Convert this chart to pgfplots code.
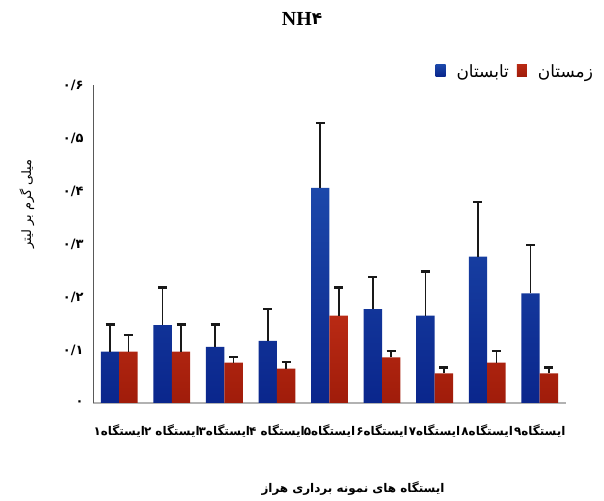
\documentclass[border=0pt]{standalone}
\usepackage{fontspec}
\usepackage{pgfplots}
\pgfplotsset{compat=1.18}
\setmainfont{Liberation Serif}
\newfontfamily\arabicfont[Script=Arabic]{DejaVu Sans}
\TeXXeTstate=1
\definecolor{bluetop}{RGB}{28,72,170}
\definecolor{bluebot}{RGB}{10,38,140}
\definecolor{redtop}{RGB}{185,42,20}
\definecolor{redbot}{RGB}{160,28,10}
\pgfplotstableread{
x s se w we
0 0.097 0.051 0.097 0.031
1 0.147 0.071 0.097 0.051
2 0.106 0.042 0.076 0.011
3 0.117 0.060 0.065 0.012
4 0.406 0.122 0.165 0.053
5 0.177 0.061 0.086 0.012
6 0.165 0.083 0.056 0.011
7 0.276 0.103 0.076 0.022
8 0.207 0.091 0.056 0.011
}\datatable
\begin{document}
\begin{tikzpicture}
\begin{axis}[
  at={(93bp,98bp)}, anchor=south west,
  scale only axis, width=473bp, height=318bp,
  xmin=-0.5, xmax=8.5, ymin=0, ymax=0.6,
  ybar=0pt, bar width=0.35,
  axis x line*=bottom, axis y line*=left,
  x axis line style={draw=gray!60, line width=1.3pt, -},
  y axis line style={draw=gray!70!black, line width=0.9pt, -},
  xtick={0,1,2,3,4,5,6,7,8},
  xticklabels={{\beginR ایستگاه۱\endR},{\beginR ایستگاه ۲\endR},{\beginR ایستگاه۳\endR},{\beginR ایستگاه ۴\endR},{\beginR ایستگاه۵\endR},{\beginR ایستگاه۶\endR},{\beginR ایستگاه۷\endR},{\beginR ایستگاه۸\endR},{\beginR ایستگاه۹\endR}},
  ytick={0,0.1,0.2,0.3,0.4,0.5,0.6},
  yticklabels={۰,۰/۱,۰/۲,۰/۳,۰/۴,۰/۵,۰/۶},
  major tick length=0pt,
  xticklabel style={font=\arabicfont\bfseries\fontsize{12}{14}\selectfont, yshift=-18bp},
  yticklabel style={font=\arabicfont\bfseries\fontsize{13}{15}\selectfont, xshift=-6bp},
  legend style={draw=none, fill=none, at={(1.068,1.04)}, anchor=east, legend columns=2,
     font=\arabicfont\fontsize{17}{19}\selectfont, /tikz/every even column/.append style={column sep=6bp}},
  legend image code/.code={\path[#1] (0bp,-4bp) rectangle (10bp,8bp); \path (19bp,2bp);},
  clip=false,
]
\addplot[draw=none, top color=bluetop, bottom color=bluebot,
  error bars/.cd, y dir=plus, y explicit,
  error bar style={draw=black!90, line width=1.7pt},
  error mark options={draw=black!90, line width=2.6pt, mark size=4.5bp, rotate=90}]
  table[x=x, y=s, y error=se] {\datatable};
\addlegendentry{\beginR تابستان\endR}
\addplot[draw=none, top color=redtop, bottom color=redbot,
  error bars/.cd, y dir=plus, y explicit,
  error bar style={draw=black!90, line width=1.7pt},
  error mark options={draw=black!90, line width=2.6pt, mark size=4.5bp, rotate=90}]
  table[x=x, y=w, y error=we] {\datatable};
\addlegendentry{\beginR زمستان\endR}
\end{axis}
\node at (302bp,482bp) {\bfseries\fontsize{20}{22}\selectfont NH\raisebox{1bp}{\arabicfont\bfseries\fontsize{17}{19}\selectfont ۴}};
\node[rotate=90, font=\arabicfont\fontsize{13}{15}\selectfont] at (27bp,297bp) {\beginR میلی گرم بر لیتر\endR};
\node[font=\arabicfont\bfseries\fontsize{12}{14}\selectfont] at (353bp,12bp) {\beginR ایستگاه های نمونه برداری هراز\endR};
\pgfresetboundingbox
\path[use as bounding box] (0,0) rectangle (604bp,501bp);
\end{tikzpicture}
\end{document}
